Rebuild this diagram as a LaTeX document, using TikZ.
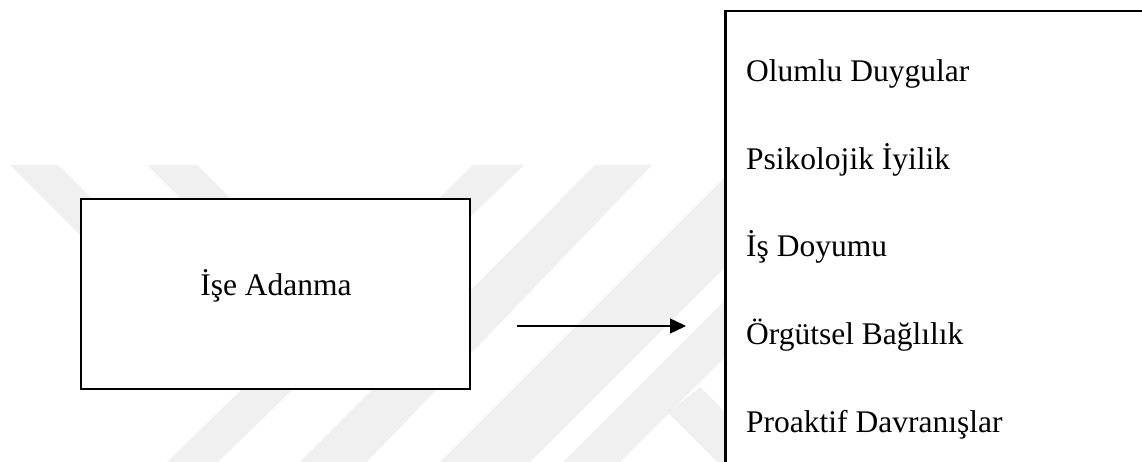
\documentclass[tikz,border=0pt]{standalone}
\usepackage{fontspec}
\setmainfont{Liberation Serif}
\usetikzlibrary{arrows.meta}
\definecolor{wm}{RGB}{240,240,240}
\begin{document}
\begin{tikzpicture}[x=1pt,y=-1pt,
  wmark/.style={fill=wm,draw=none},
  boxnode/.style={draw=black,fill=white,line width=2.6pt,inner sep=0pt,outer sep=0pt},
  lbl/.style={font=\fontsize{31.5}{36}\selectfont,inner sep=0pt},
  conn/.style={line width=1.3pt,-{Triangle[length=16pt,width=15pt]}}]
\useasboundingbox (0,0) rectangle (1142,462);
\clip (0,0) rectangle (1142,462);
% faint watermark
\fill[wmark] (10,165) -- (58,165) -- (160,267) -- (112,267) -- cycle;
\fill[wmark] (147,165) -- (197,165) -- (260,228) -- (210,228) -- cycle;
\fill[wmark] (473,165) -- (524,165) -- (218,462) -- (167,462) -- cycle;
\fill[wmark] (595,165) -- (652,165) -- (367,462) -- (300,462) -- cycle;
\fill[wmark] (440,462) -- (730,172) -- (730,262) -- (530,462) -- cycle;
\fill[wmark] (563,462) -- (730,295) -- (730,352) -- (620,462) -- cycle;
\fill[wmark] (700,387) -- (735,422) -- (735,480) -- (668,413) -- cycle;
% boxes
\node[boxnode, minimum width=389pt, minimum height=190pt] (ise) at (275.5,294) {};
\node[boxnode, anchor=north west, minimum width=520pt, minimum height=520pt] (out) at (725.5,11) {};
% texts
\node[lbl, anchor=base] (isel) at (276,295) {İşe Adanma};
\node[lbl, anchor=base west] (t1) at (746,82) {Olumlu Duygular};
\node[lbl, anchor=base west] (t2) at (746,170) {Psikolojik İyilik};
\node[lbl, anchor=base west] (t3) at (746,257) {İş Doyumu};
\node[lbl, anchor=base west] (t4) at (746,344) {Örgütsel Bağlılık};
\node[lbl, anchor=base west] (t5) at (746,432) {Proaktif Davranışlar};
% arrow
\coordinate (a1) at (517,326);
\coordinate (a2) at (686,326);
\draw[conn] (a1) -- (a2);
\end{tikzpicture}
\end{document}
